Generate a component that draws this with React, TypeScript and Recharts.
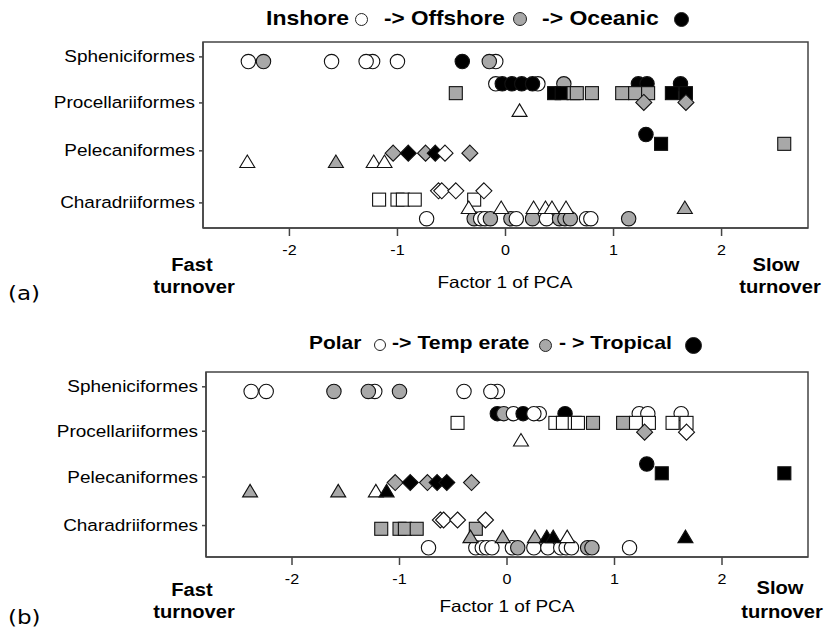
import React from "react";
import { ScatterChart, Scatter, XAxis, YAxis, ReferenceArea } from "recharts";

const orders = ["Spheniciformes", "Procellariiformes", "Pelecaniformes", "Charadriiformes"];
const orderLevelsA = [1.6, 6.55, 11.7, 17.3];
const orderLevelsB = [1.6, 6.4, 11.35, 16.6];
const xTicks = [-2, -1, 0, 1, 2];

// w = white, g = grey, b = black ; "a" = habitat colouring, "b" = climate colouring
const sphCircleX = [-2.38, -2.24, -1.61, -1.23, -1.29, -1.0, -0.4, -0.09, -0.15];
const sphCircleA = "wgwwwwbwg";
const sphCircleB = "wwgwggwww";

const proCircleX = [-0.09, 0.3, -0.03, 0.06, 0.15, 0.25, 0.54, 1.23, 1.31, 1.62];
const proCircleA = "wwbbbbgbbb";
const proCircleB = "bwgwbwbwww";
const proSquareX = [-0.46, 0.45, 0.52, 0.63, 0.66, 0.8, 1.08, 1.2, 1.32, 1.54, 1.67];
const proSquareA = "gbbggggggbb";
const proSquareB = "wwwwwggwwww";
const proDiamondX = [1.28, 1.67];
const proDiamondA = "gg";
const proDiamondB = "gw";
const proTriangleX = [0.13];
const proTriangleA = "w";
const proTriangleB = "w";

const pelCircleX = [1.3];
const pelCircleA = "b";
const pelCircleB = "b";
const pelSquareX = [1.44, 2.58];
const pelSquareA = "bg";
const pelSquareB = "bb";
const pelDiamondX = [-1.04, -0.9, -0.74, -0.65, -0.56, -0.33];
const pelDiamondA = "gbgbwg";
const pelDiamondB = "gbgbbg";
const pelTriangleX = [-2.39, -1.57, -1.22, -1.12];
const pelTriangleA = "wgww";
const pelTriangleB = "ggwb";

const chaDiamondX = [-0.62, -0.59, -0.46, -0.2];
const chaDiamondA = "wwww";
const chaDiamondB = "wwww";
const chaSquareX = [-1.17, -1.0, -0.95, -0.84, -0.29];
const chaSquareA = "wwwww";
const chaSquareB = "ggggg";
const chaTriangleX = [-0.34, -0.04, 0.26, 0.37, 0.43, 0.56, 1.66];
const chaTriangleA = "wwwwwwg";
const chaTriangleB = "gggbbwb";
const chaCircleX = [-0.73, -0.29, -0.23, -0.19, -0.14, 0.05, 0.1, 0.25, 0.38, 0.5, 0.55, 0.6, 0.75, 0.79, 1.14];
const chaCircleA = "wgwwggwgwgggwwg";
const chaCircleB = "wwwwwwgwwwwwggw";

const groups = [
  { shape: "circle", lane: 2.1, x: sphCircleX, a: sphCircleA, b: sphCircleB },
  { shape: "circle", lane: 4.5, x: proCircleX, a: proCircleA, b: proCircleB },
  { shape: "circle", lane: 9.95, x: pelCircleX, a: pelCircleA, b: pelCircleB },
  { shape: "circle", lane: 19.0, x: chaCircleX, a: chaCircleA, b: chaCircleB },
  { shape: "square", lane: 5.5, x: proSquareX, a: proSquareA, b: proSquareB },
  { shape: "square", lane: 10.95, x: pelSquareX, a: pelSquareA, b: pelSquareB },
  { shape: "square", lane: 16.95, x: chaSquareX, a: chaSquareA, b: chaSquareB },
  { shape: "triangle", lane: 7.35, x: proTriangleX, a: proTriangleA, b: proTriangleB },
  { shape: "triangle", lane: 12.85, x: pelTriangleX, a: pelTriangleA, b: pelTriangleB },
  { shape: "triangle", lane: 17.8, x: chaTriangleX, a: chaTriangleA, b: chaTriangleB },
  { shape: "diamond", lane: 6.5, x: proDiamondX, a: proDiamondA, b: proDiamondB },
  { shape: "diamond", lane: 11.95, x: pelDiamondX, a: pelDiamondA, b: pelDiamondB },
  { shape: "diamond", lane: 16.0, x: chaDiamondX, a: chaDiamondA, b: chaDiamondB },
];

const FILL: Record<string, string> = { w: "#ffffff", g: "#a8a8a8", b: "#000000" };
const FONT = "'Liberation Sans', Arial, sans-serif";
const SX = 1.15;

const mark = (shape: string) => (p: any) => {
  const { cx, cy, payload } = p;
  const fill = FILL[payload.c];
  const st = { fill, stroke: "#111", strokeWidth: 1.1 };
  if (shape === "circle") return <circle cx={cx} cy={cy} r={7.2} {...st} />;
  if (shape === "square") return <rect x={cx - 6.5} y={cy - 6.5} width={13} height={13} {...st} />;
  if (shape === "triangle")
    return <polygon points={`${cx},${cy - 6.5} ${cx + 7.5},${cy + 6} ${cx - 7.5},${cy + 6}`} {...st} />;
  return <polygon points={`${cx},${cy - 8} ${cx + 8},${cy} ${cx},${cy + 8} ${cx - 8},${cy}`} {...st} />;
};

const makeYTick = (levels: number[]) => (p: any) => {
  const { x, y, payload } = p;
  return (
    <g transform={`translate(${x},${y}) scale(${SX},1)`}>
      <text textAnchor="end" dominantBaseline="central" fontSize={16.5} fontFamily={FONT} fill="#000">
        {orders[levels.indexOf(payload.value)]}
      </text>
    </g>
  );
};

const XTick = (p: any) => {
  const { x, y, payload } = p;
  return (
    <g transform={`translate(${x},${y + 12}) scale(${SX},1)`}>
      <text textAnchor="middle" dominantBaseline="central" fontSize={14} fontFamily={FONT} fill="#000">
        {payload.value}
      </text>
    </g>
  );
};

const Panel = ({ colour, left, height, levels }: { colour: "a" | "b"; left: number; height: number; levels: number[] }) => {
  const shapes = ["circle", "square", "triangle", "diamond"];
  const YTick = makeYTick(levels);
  return (
    <ScatterChart width={825} height={height} margin={{ top: 42, right: 17, bottom: 2, left }}>
      <XAxis
        type="number"
        dataKey="x"
        domain={[-2.8, 2.8]}
        ticks={xTicks}
        allowDataOverflow
        height={30}
        tickSize={8}
        tickMargin={2}
        tick={<XTick />}
        stroke="#444"
        strokeWidth={1.5}
      />
      <YAxis
        type="number"
        dataKey="y"
        domain={[0, 20]}
        reversed
        ticks={levels}
        width={200}
        tickSize={4}
        tickMargin={4}
        tick={<YTick />}
        stroke="#444"
        strokeWidth={1.5}
      />
      <ReferenceArea x1={-2.8} x2={2.8} y1={0} y2={20} fill="none" stroke="#444" strokeWidth={1.5} />
      {shapes.map((s) => (
        <Scatter
          key={s}
          isAnimationActive={false}
          shape={mark(s)}
          data={groups
            .filter((g) => g.shape === s)
            .flatMap((g) => g.x.map((v, i) => ({ x: v, y: g.lane, c: g[colour][i] })))}
        />
      ))}
    </ScatterChart>
  );
};

const Txt = ({
  x,
  y,
  size,
  bold,
  anchor = "middle",
  family = FONT,
  sx = SX,
  children,
}: {
  x: number;
  y: number;
  size: number;
  bold?: boolean;
  anchor?: "middle" | "start";
  family?: string;
  sx?: number;
  children: React.ReactNode;
}) => (
  <div
    style={{
      position: "absolute",
      left: x,
      top: y - size * 0.6,
      fontSize: size,
      lineHeight: `${size * 1.2}px`,
      fontWeight: bold ? 700 : 400,
      fontFamily: family,
      whiteSpace: "nowrap",
      color: "#000",
      transformOrigin: anchor === "middle" ? "center" : "left",
      transform: anchor === "middle" ? `translateX(-50%) scaleX(${sx})` : `scaleX(${sx})`,
    }}
  >
    {children}
  </div>
);

const Dot = ({ x, y, d, c }: { x: number; y: number; d: number; c: string }) => (
  <div
    style={{
      position: "absolute",
      left: x - d / 2,
      top: y - d / 2,
      width: d,
      height: d,
      borderRadius: "50%",
      background: FILL[c],
      border: "1px solid #222",
      boxSizing: "border-box",
    }}
  />
);

const App = () => (
  <div style={{ position: "absolute", left: 0, top: 0, width: 825, height: 628, background: "#fff" }}>
    <div style={{ position: "absolute", left: 0, top: 0 }}>
      <Panel colour="a" left={3} height={260} levels={orderLevelsA} />
    </div>
    <div style={{ position: "absolute", left: 0, top: 330 }}>
      <Panel colour="b" left={6} height={259} levels={orderLevelsB} />
    </div>

    <Txt x={266} y={18} size={20.5} bold anchor="start" sx={1.12}>Inshore</Txt>
    <Dot x={361} y={19} d={13} c="w" />
    <Txt x={384} y={18} size={20.5} bold anchor="start" sx={1.1}>-&gt; Offshore</Txt>
    <Dot x={520} y={19} d={14} c="g" />
    <Txt x={542} y={18} size={20.5} bold anchor="start" sx={1.12}>-&gt; Oceanic</Txt>
    <Dot x={681} y={19} d={15} c="b" />

    <Txt x={309} y={343} size={19} bold anchor="start" sx={1.1}>Polar</Txt>
    <Dot x={380} y={345} d={12} c="w" />
    <Txt x={392} y={343} size={19} bold anchor="start" sx={1.12}>-&gt; Temp erate</Txt>
    <Dot x={545} y={345} d={13} c="g" />
    <Txt x={559} y={343} size={19} bold anchor="start" sx={1.12}>- &gt; Tropical</Txt>
    <Dot x={693} y={345} d={17} c="b" />

    <Txt x={505} y={283} size={16.5}>Factor 1 of PCA</Txt>
    <Txt x={507} y={607} size={16.5}>Factor 1 of PCA</Txt>

    <Txt x={192} y={265} size={17.5} bold>Fast</Txt>
    <Txt x={194} y={287} size={17.5} bold>turnover</Txt>
    <Txt x={776} y={265} size={17.5} bold>Slow</Txt>
    <Txt x={780} y={287} size={17.5} bold>turnover</Txt>
    <Txt x={192} y={590} size={17.5} bold>Fast</Txt>
    <Txt x={194} y={612} size={17.5} bold>turnover</Txt>
    <Txt x={780} y={588} size={17.5} bold>Slow</Txt>
    <Txt x={782} y={612} size={17.5} bold>turnover</Txt>

    <Txt x={8} y={293} size={20} anchor="start" family="'DejaVu Sans', sans-serif">(a)</Txt>
    <Txt x={8} y={617} size={20} anchor="start" family="'DejaVu Sans', sans-serif">(b)</Txt>
  </div>
);

export default App;
